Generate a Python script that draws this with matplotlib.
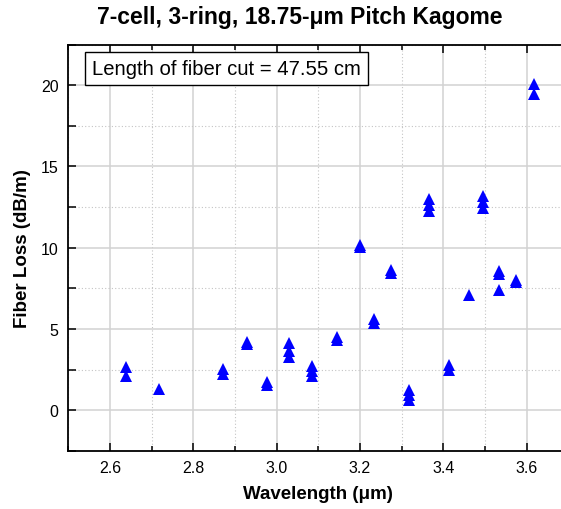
import matplotlib
matplotlib.use("Agg")
import matplotlib.pyplot as plt
from matplotlib.ticker import MultipleLocator

plt.rcParams['font.family'] = ['Liberation Sans', 'DejaVu Sans']

# Measured loss at each wavelength (repeated wavelengths are repeated cut-back runs)
wavelength_um = [2.638, 2.638, 2.718, 2.872, 2.872, 2.929, 2.929,
                 2.977, 2.977, 3.030, 3.030, 3.030, 3.084, 3.084, 3.084,
                 3.144, 3.144, 3.200, 3.200, 3.235, 3.235, 3.275, 3.275,
                 3.319, 3.319, 3.319, 3.367, 3.367, 3.367, 3.415, 3.415,
                 3.462, 3.495, 3.495, 3.495, 3.534, 3.534, 3.534,
                 3.575, 3.575, 3.617, 3.617]
loss_db_per_m = [2.65, 2.10, 1.32, 2.55, 2.20, 4.20, 4.10,
                 1.75, 1.55, 4.15, 3.65, 3.28, 2.72, 2.41, 2.10,
                 4.50, 4.32, 10.15, 10.02, 5.58, 5.35, 8.62, 8.42,
                 1.25, 0.92, 0.60, 13.00, 12.60, 12.25, 2.80, 2.45,
                 7.08, 13.20, 12.80, 12.45, 8.58, 8.40, 7.40,
                 8.02, 7.86, 20.05, 19.45]

title = "7-cell, 3-ring, 18.75-\u03bcm Pitch Kagome"
x_label = "Wavelength (\u03bcm)"
y_label = "Fiber Loss (dB/m)"
note = "Length of fiber cut = 47.55 cm"

fig = plt.figure(figsize=(5.61, 5.10), dpi=100)
ax = fig.add_axes([0.1218, 0.1143, 0.891, 0.7961])

ax.plot(wavelength_um, loss_db_per_m, linestyle='none', marker='^',
        markersize=9, color='#0000ff', markeredgewidth=0, zorder=3)

ax.set_xlim(2.5, 3.7)
ax.set_ylim(-2.5, 22.5)
ax.xaxis.set_major_locator(MultipleLocator(0.2))
ax.xaxis.set_minor_locator(MultipleLocator(0.1))
ax.yaxis.set_major_locator(MultipleLocator(5))
ax.yaxis.set_minor_locator(MultipleLocator(2.5))
ax.xaxis.set_major_formatter(matplotlib.ticker.FormatStrFormatter('%.1f'))

ax.grid(which='major', color='#d2d2d2', linewidth=1.1, linestyle='-', zorder=0)
ax.grid(which='minor', color='#c4c4c4', linewidth=0.8, linestyle=(0, (1, 2)), zorder=0)
ax.set_axisbelow(True)

ax.tick_params(axis='both', which='major', direction='in', length=6, width=1.1,
               top=True, right=False, labelsize=11.5, pad=7)
ax.tick_params(axis='x', which='minor', direction='in', length=3.5, width=1.1, top=True)
ax.tick_params(axis='y', which='minor', direction='in', length=6, width=1.1)

for side in ('left', 'bottom', 'top'):
    ax.spines[side].set_linewidth(1.3)
ax.spines['right'].set_visible(False)

ax.set_xlabel(x_label, fontsize=13.5, fontweight='bold', labelpad=7)
ax.set_ylabel(y_label, fontsize=13.5, fontweight='bold', labelpad=7)
fig.text(0.535, 0.966, title, fontsize=16.5, fontweight='bold', ha='center', va='center')

ax.text(0.048, 0.965, note, transform=ax.transAxes, fontsize=14.6, ha='left', va='top',
        bbox=dict(boxstyle='square,pad=0.36', facecolor='white', edgecolor='black', linewidth=1.0),
        zorder=5)

fig.savefig("out.png", dpi=100)
